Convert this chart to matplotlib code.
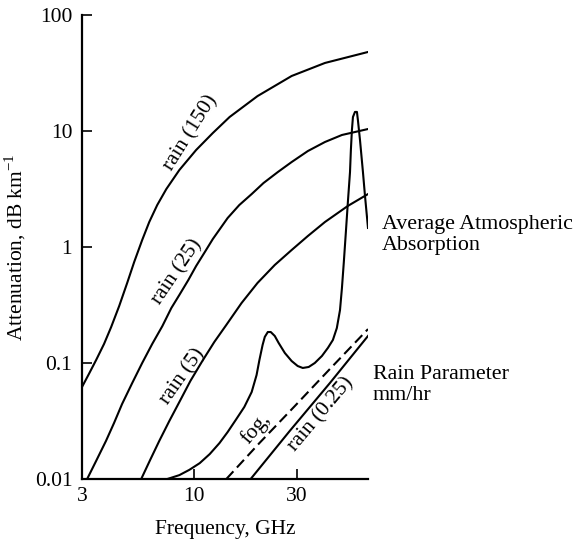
import matplotlib
matplotlib.use("Agg")
import matplotlib.pyplot as plt

# 読み取った値 (周波数 GHz, 減衰 dB/km)
rain150_f = [3.00, 3.23, 3.49, 3.80, 4.10, 4.47, 4.87, 5.25, 5.72, 6.17, 6.72, 7.41, 8.52, 10.2,
             12.2, 14.6, 19.7, 28.4, 40.6, 64.4]
rain150_a = [0.0621, 0.0804, 0.106, 0.146, 0.204, 0.310, 0.490, 0.743, 1.149, 1.643, 2.30, 3.16,
             4.61, 6.86, 9.61, 13.2, 20.0, 29.8, 38.6, 48.0]

rain25_f = [3.17, 3.49, 3.88, 4.23, 4.61, 5.14, 5.72, 6.37, 7.10, 7.82, 8.52, 9.38, 10.2, 11.2,
            12.2, 14.3, 16.2, 18.5, 21.0, 24.5, 28.4, 33.8, 40.6, 48.7, 64.4]
rain25_a = [0.01, 0.0143, 0.0213, 0.0304, 0.0443, 0.0672, 0.100, 0.146, 0.208, 0.298, 0.386,
            0.519, 0.686, 0.906, 1.172, 1.778, 2.30, 2.86, 3.56, 4.43, 5.40, 6.72, 8.04, 9.24, 10.4]

rain5_f = [5.66, 6.23, 6.87, 7.65, 8.52, 9.59, 10.9, 12.4, 14.1, 16.6, 19.7, 23.7, 28.4, 33.8,
           40.6, 51.9, 64.4]
rain5_a = [0.01, 0.0146, 0.0213, 0.0316, 0.0461, 0.0700, 0.104, 0.152, 0.213, 0.329, 0.490,
           0.700, 0.942, 1.244, 1.643, 2.26, 2.86]

atm_f = [7.49, 8.52, 9.49, 10.6, 11.8, 13.1, 14.3, 15.6, 17.1, 18.5, 19.5, 20.1, 20.8, 21.3, 22.0,
         22.7, 23.7, 24.7, 26.4, 28.4, 30.3, 32.0, 34.1, 36.4, 39.3, 41.9, 44.2, 46.1, 47.7, 48.7,
         49.7, 50.8, 51.9, 53.1, 53.6, 54.2, 54.8, 56.0, 57.2, 57.8, 59.1, 61.0, 62.3, 64.4]
atm_a = [0.01, 0.0108, 0.0120, 0.0137, 0.0164, 0.0204, 0.0254, 0.0323, 0.0418, 0.0562, 0.0788,
         0.106, 0.143, 0.168, 0.185, 0.185, 0.171, 0.149, 0.122, 0.104, 0.0942, 0.0906, 0.0924,
         0.100, 0.115, 0.135, 0.158, 0.200, 0.286, 0.443, 0.743, 1.347, 2.44, 4.43, 6.86, 10.2,
         13.2, 14.6, 14.6, 12.4, 8.36, 4.43, 2.81, 1.46]

fog_f = [14.1, 20.1, 29.4, 42.8, 64.4]
fog_a = [0.01, 0.0204, 0.0426, 0.0888, 0.196]

rain025_f = [18.3, 27.8, 42.8, 64.4]
rain025_a = [0.01, 0.0259, 0.0672, 0.171]

yticks = [0.01, 0.1, 1, 10, 100]
yticklabels = ["0.01", "0.1", "1", "10", "100"]
xticks = [3, 10, 30]
xticklabels = ["3", "10", "30"]

fs = 15.5
plt.rcParams['font.family'] = ['Liberation Serif', 'DejaVu Serif']
plt.rcParams['mathtext.fontset'] = 'custom'
plt.rcParams['mathtext.rm'] = 'Liberation Serif'
plt.rcParams['font.size'] = fs

fig = plt.figure(figsize=(5.73, 5.40), dpi=100)
ax = fig.add_axes([82 / 573, 1 - 479 / 540, (368 - 82) / 573, (479 - 15) / 540])

lw = 1.5
ax.plot(rain150_f, rain150_a, color='black', lw=lw)
ax.plot(rain25_f, rain25_a, color='black', lw=lw)
ax.plot(rain5_f, rain5_a, color='black', lw=lw)
ax.plot(atm_f, atm_a, color='black', lw=lw)
ax.plot(fog_f, fog_a, color='black', lw=lw, dashes=(5, 2.5))
ax.plot(rain025_f, rain025_a, color='black', lw=lw)

ax.set_xscale('log')
ax.set_yscale('log')
ax.set_xlim(3, 64.4)
ax.set_ylim(0.01, 100)
ax.set_xticks(xticks)
ax.set_xticklabels(xticklabels)
ax.set_yticks(yticks)
ax.set_yticklabels(yticklabels)
ax.minorticks_off()
ax.tick_params(direction='in', length=7, width=1.2, labelsize=fs)
ax.tick_params(axis='y', pad=7)
ax.tick_params(axis='x', pad=6)
ax.spines['top'].set_visible(False)
ax.spines['right'].set_visible(False)
ax.spines['left'].set_linewidth(1.6)
ax.spines['bottom'].set_linewidth(1.6)

ax.set_xlabel("Frequency, GHz", fontsize=fs, labelpad=10)
ax.set_ylabel(r"Attenuation, dB km$^{-1}$", fontsize=fs, labelpad=5)

# 曲線ラベル
ax.text(9.6, 9.6, "rain (150)", rotation=58, ha='center', va='center', fontsize=fs)
ax.text(8.3, 0.609, "rain (25)", rotation=56, ha='center', va='center', fontsize=fs)
ax.text(8.8, 0.0757, "rain (5)", rotation=55, ha='center', va='center', fontsize=fs)
ax.text(19.3, 0.027, "fog,", rotation=50, ha='center', va='center', fontsize=fs)
ax.text(38.8, 0.0363, "rain (0.25)", rotation=50, ha='center', va='center', fontsize=fs)

fig.text(382 / 573, 1 - 235 / 540, "Average Atmospheric\nAbsorption", ha='left', va='center',
         fontsize=fs + 0.3, linespacing=1.2)
fig.text(373 / 573, 1 - 385 / 540, "Rain Parameter\nmm/hr", ha='left', va='center',
         fontsize=fs + 0.3, linespacing=1.2)

plt.savefig("out.png", dpi=100)
